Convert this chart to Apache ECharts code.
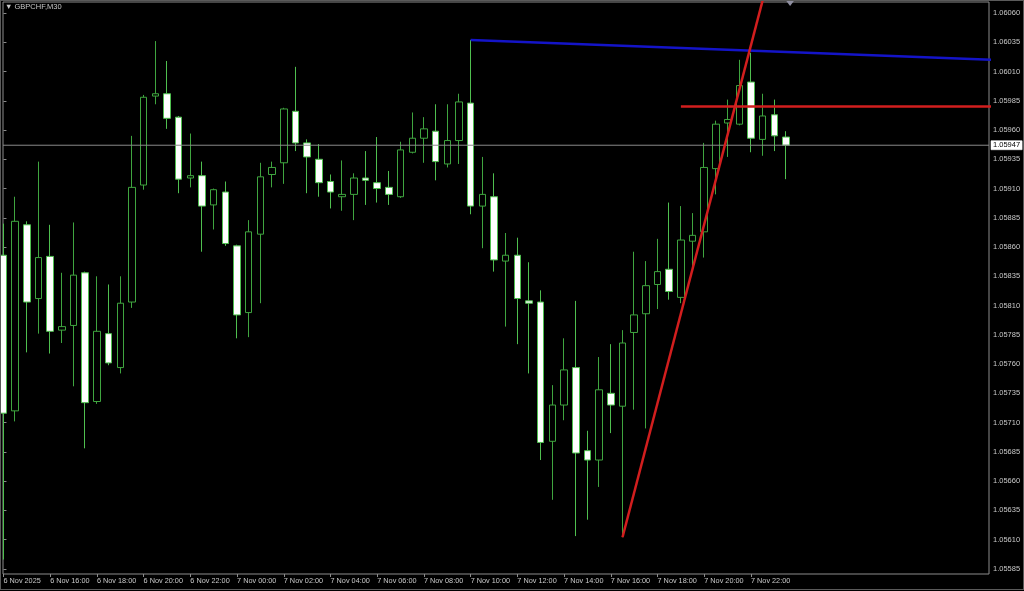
<!DOCTYPE html>
<html><head><meta charset="utf-8">
<script src="https://cdn.jsdelivr.net/npm/echarts@6/dist/echarts.min.js"></script>
<style>
html,body{margin:0;padding:0;background:#000;overflow:hidden;}
#c{width:1024px;height:591px;}
#f{position:absolute;left:0;top:0;width:1022px;height:588px;border:1px solid #5a5a5a;pointer-events:none;}
</style>
</head><body><div id="c"></div><div id="f"></div>
<script>
// ---- data (GBPCHF, M30) ----
const times = [
 "6 Nov 14:00","6 Nov 14:30","6 Nov 15:00","6 Nov 15:30","6 Nov 16:00","6 Nov 16:30","6 Nov 17:00","6 Nov 17:30",
 "6 Nov 18:00","6 Nov 18:30","6 Nov 19:00","6 Nov 19:30","6 Nov 20:00","6 Nov 20:30","6 Nov 21:00","6 Nov 21:30",
 "6 Nov 22:00","6 Nov 22:30","6 Nov 23:00","6 Nov 23:30","7 Nov 00:00","7 Nov 00:30","7 Nov 01:00","7 Nov 01:30",
 "7 Nov 02:00","7 Nov 02:30","7 Nov 03:00","7 Nov 03:30","7 Nov 04:00","7 Nov 04:30","7 Nov 05:00","7 Nov 05:30",
 "7 Nov 06:00","7 Nov 06:30","7 Nov 07:00","7 Nov 07:30","7 Nov 08:00","7 Nov 08:30","7 Nov 09:00","7 Nov 09:30",
 "7 Nov 10:00","7 Nov 10:30","7 Nov 11:00","7 Nov 11:30","7 Nov 12:00","7 Nov 12:30","7 Nov 13:00","7 Nov 13:30",
 "7 Nov 14:00","7 Nov 14:30","7 Nov 15:00","7 Nov 15:30","7 Nov 16:00","7 Nov 16:30","7 Nov 17:00","7 Nov 17:30",
 "7 Nov 18:00","7 Nov 18:30","7 Nov 19:00","7 Nov 19:30","7 Nov 20:00","7 Nov 20:30","7 Nov 21:00","7 Nov 21:30",
 "7 Nov 22:00","7 Nov 22:30","7 Nov 23:00","7 Nov 23:30"
];
const opens = [
 1.05853,1.05720,1.05879,1.05816,1.05852,1.05789,1.05793,1.05838,
 1.05728,1.05786,1.05757,1.05813,1.05913,1.05989,1.05991,1.05971,
 1.05919,1.05921,1.05896,1.05907,1.05861,1.05804,1.05871,1.05922,
 1.05932,1.05976,1.05949,1.05935,1.05916,1.05903,1.05905,1.05919,
 1.05915,1.05911,1.05903,1.05941,1.05953,1.05959,1.05931,1.05951,
 1.05983,1.05895,1.05903,1.05848,1.05853,1.05814,1.05813,1.05694,
 1.05725,1.05757,1.05686,1.05678,1.05735,1.05724,1.05787,1.05803,
 1.05828,1.05841,1.05817,1.05865,1.05873,1.05927,1.05966,1.05965,
 1.06001,1.05952,1.05973,1.05954
];
const highs = [
 1.05880,1.05903,1.05882,1.05933,1.05879,1.05838,1.05881,1.05839,
 1.05835,1.05828,1.05835,1.05955,1.05990,1.06036,1.06019,1.05972,
 1.05957,1.05933,1.05910,1.05916,1.05862,1.05883,1.05932,1.05933,
 1.05979,1.06014,1.05952,1.05948,1.05922,1.05934,1.05923,1.05942,
 1.05954,1.05925,1.05950,1.05975,1.05971,1.05982,1.05982,1.05991,
 1.06037,1.05937,1.05923,1.05872,1.05868,1.05847,1.05823,1.05742,
 1.05782,1.05814,1.05703,1.05766,1.05777,1.05789,1.05856,1.05848,
 1.05867,1.05898,1.05895,1.05889,1.05949,1.05968,1.05986,1.06020,
 1.06026,1.05991,1.05986,1.05959
];
const lows = [
 1.05593,1.05711,1.05770,1.05786,1.05769,1.05778,1.05741,1.05688,
 1.05726,1.05759,1.05752,1.05808,1.05909,1.05982,1.05961,1.05906,
 1.05911,1.05856,1.05875,1.05861,1.05782,1.05783,1.05812,1.05911,
 1.05914,1.05942,1.05906,1.05903,1.05893,1.05891,1.05883,1.05896,
 1.05898,1.05896,1.05902,1.05940,1.05932,1.05917,1.05928,1.05931,
 1.05888,1.05859,1.05839,1.05792,1.05777,1.05752,1.05678,1.05644,
 1.05712,1.05613,1.05627,1.05655,1.05701,1.05612,1.05721,1.05705,
 1.05807,1.05815,1.05812,1.05839,1.05851,1.05905,1.05937,1.05964,
 1.05941,1.05938,1.05942,1.05918
];
const closes = [
 1.05718,1.05882,1.05813,1.05851,1.05788,1.05792,1.05836,1.05727,
 1.05788,1.05761,1.05812,1.05911,1.05988,1.05991,1.05970,1.05918,
 1.05921,1.05895,1.05909,1.05863,1.05802,1.05873,1.05920,1.05928,
 1.05978,1.05949,1.05937,1.05915,1.05907,1.05905,1.05919,1.05917,
 1.05910,1.05905,1.05943,1.05953,1.05961,1.05933,1.05951,1.05984,
 1.05895,1.05905,1.05849,1.05853,1.05816,1.05812,1.05693,1.05725,
 1.05755,1.05684,1.05678,1.05738,1.05725,1.05778,1.05802,1.05827,
 1.05839,1.05822,1.05866,1.05870,1.05928,1.05965,1.05969,1.05998,
 1.05953,1.05972,1.05955,1.05947
];
const bidPrice = 1.05947;
// visible bar range of the window
const xMin = -0.04, xMax = 84.38;
const yMin = 1.055806, yMax = 1.060694;
// drawn objects: [bar index, price]
const blueTrend = [[40, 1.06037], [90, 1.06018]];
const redTrend = [[53, 1.05612], [66, 1.06109]];
const redLevel = [[58, 1.05980], [90, 1.05980]];
const bidLine = [[xMin, bidPrice], [xMax, bidPrice]];
// axis ticks
const xTickIdx = [0,4,8,12,16,20,24,28,32,36,40,44,48,52,56,60,64];
const xTickLabels = ["6 Nov 2025","6 Nov 16:00","6 Nov 18:00","6 Nov 20:00","6 Nov 22:00","7 Nov 00:00",
 "7 Nov 02:00","7 Nov 04:00","7 Nov 06:00","7 Nov 08:00","7 Nov 10:00","7 Nov 12:00","7 Nov 14:00",
 "7 Nov 16:00","7 Nov 18:00","7 Nov 20:00","7 Nov 22:00"];
const yTicks = [1.05585,1.05610,1.05635,1.05660,1.05685,1.05710,1.05735,1.05760,1.05785,1.05810,
 1.05835,1.05860,1.05885,1.05910,1.05935,1.05960,1.05985,1.06010,1.06035,1.06060];

// ---- chart ----
const FONT = 'Liberation Sans';
const candleData = times.map((t, i) => [i, opens[i], closes[i], lows[i], highs[i]]);
const chart = echarts.init(document.getElementById('c'), null, {renderer: 'canvas', width: 1024, height: 591});
chart.setOption({
  backgroundColor: '#000',
  animation: false,
  title: {
    text: '\u25BC GBPCHF,M30', left: 5, top: 3, padding: 0,
    textStyle: {color: '#c8c8c8', fontSize: 7.5, fontWeight: 'normal', fontFamily: FONT}
  },
  grid: {left: 3, right: 35, top: 2, bottom: 17, show: true, borderColor: '#8c8c8c', borderWidth: 1, backgroundColor: '#000'},
  xAxis: {
    type: 'value', min: xMin, max: xMax,
    splitLine: {show: false}, axisLine: {show: false},
    axisTick: {show: true, customValues: xTickIdx, length: 3, lineStyle: {color: '#8c8c8c'}},
    axisLabel: {
      customValues: xTickIdx,
      formatter: v => xTickLabels[xTickIdx.indexOf(Math.round(v))] || '',
      color: '#c8c8c8', fontSize: 7.3, align: 'left', margin: 3, fontFamily: FONT
    }
  },
  yAxis: {
    type: 'value', position: 'right', min: yMin, max: yMax,
    splitLine: {show: false}, axisLine: {show: false},
    axisTick: {show: true, customValues: yTicks, length: 3, lineStyle: {color: '#8c8c8c'}},
    axisLabel: {
      customValues: yTicks, formatter: v => v.toFixed(5),
      color: '#c8c8c8', fontSize: 7.5, margin: 4, fontFamily: FONT
    }
  },
  series: [
    {
      type: 'line', data: bidLine, symbol: 'none', silent: true, clip: false,
      lineStyle: {color: '#8a8a8a', width: 1},
      endLabel: {show: true, formatter: bidPrice.toFixed(5), distance: 2,
        color: '#000', backgroundColor: '#fff', borderColor: '#9a9a9a', borderWidth: 0.5,
        fontSize: 7.5, padding: [1, 2, 0, 2], fontFamily: FONT}
    },
    {
      type: 'candlestick', data: candleData, encode: {x: 0, y: [1, 2, 3, 4]},
      barWidth: 7,
      itemStyle: {color: '#000', color0: '#fff', borderColor: '#3fa53f', borderColor0: '#4fbf4f', borderWidth: 1},
      markPoint: {
        silent: true, animation: false,
        data: [{coord: [67.35, yMax], symbol: 'triangle', symbolSize: [9, 6], symbolRotate: 180,
          symbolOffset: [0, 1], itemStyle: {color: '#8e8ea0'}, label: {show: false}}]
      }
    },
    {type: 'line', data: blueTrend, symbol: 'none', silent: true, clip: true,
      lineStyle: {color: '#1414c8', width: 2.5}},
    {type: 'line', data: redLevel, symbol: 'none', silent: true, clip: true,
      lineStyle: {color: '#d21e1e', width: 2.5}},
    {type: 'line', data: redTrend, symbol: 'none', silent: true, clip: true,
      lineStyle: {color: '#d21e1e', width: 2.5}}
  ]
});
</script></body></html>
